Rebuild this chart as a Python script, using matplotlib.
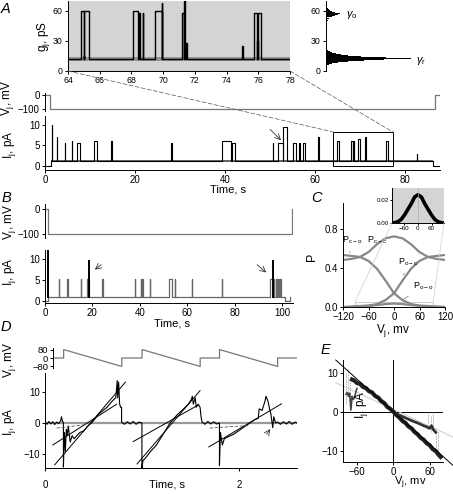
import matplotlib
matplotlib.use('Agg')
import matplotlib.pyplot as plt
from matplotlib.patches import Rectangle, ConnectionPatch

plt.rcParams['font.family'] = ['Liberation Sans', 'DejaVu Sans']
plt.rcParams['mathtext.fontset'] = 'custom'
plt.rcParams['mathtext.rm'] = 'Liberation Sans'
plt.rcParams['mathtext.it'] = 'Liberation Sans:italic'
plt.rcParams['axes.linewidth'] = 0.7

W, H = 453, 494

# ---------------- data ----------------
# A, zoomed conductance trace 64-78 s (start, end, level pS), baseline ~12 pS
g_base = 12
g_events = [(64.8, 64.98, 60), (64.98, 65.02, 15), (65.02, 65.35, 60), (68.1, 68.4, 60),
            (68.5, 68.55, 58), (68.7, 68.75, 58), (69.5, 69.9, 60), (69.9, 69.95, 68),
            (71.2, 71.3, 58), (71.3, 71.36, 70), (71.45, 71.5, 28), (75.0, 75.05, 25),
            (75.75, 75.95, 58), (75.95, 76.0, 30), (76.0, 76.15, 58)]
# all-points histogram of g_j
hist_g = [5, 6, 7, 8, 9, 10, 11, 12, 13, 14, 15, 16, 17, 18, 19, 20, 22, 25, 30, 35, 40, 45,
          50, 52, 54, 55, 56, 57, 58, 59, 60, 61, 62, 64, 66, 68, 70]
hist_n = [1, 3, 6, 12, 22, 38, 58, 85, 60, 35, 22, 15, 10, 6, 4, 2, 1, 1, 1, 1, 1, 1,
          2, 3, 6, 9, 12, 14, 9, 6, 4, 3, 2, 1, 1, 1, 1]

# A, voltage protocol and junctional current
a_vj_t = [0, 1.1, 1.1, 86.6, 86.6, 87.8]
a_vj_v = [0, 0, -100, -100, 0, 0]
a_ij_base = 1.2
a_ij_events = [(1.5, 1.6, 10), (2.6, 2.7, 7), (4.4, 4.5, 5.5), (5.9, 6.0, 6), (7.2, 7.8, 5.5),
               (10.9, 11.5, 6), (14.7, 14.8, 6), (28.1, 28.2, 5.5), (39.3, 41.3, 6),
               (41.6, 42.3, 5.5), (50.6, 50.7, 5.5), (51.7, 52.9, 5.5), (53.0, 53.7, 9.5),
               (55.1, 55.8, 5.5), (56.5, 56.6, 5.5), (57.3, 57.8, 5.5), (60.7, 60.8, 7),
               (64.8, 65.35, 6), (68.1, 68.4, 6), (68.5, 68.55, 6), (68.7, 68.75, 6),
               (69.5, 69.95, 6.5), (71.2, 71.35, 7), (75.75, 76.15, 6), (82.6, 82.7, 3)]

# B, idealised record
b_vj_t = [0, 1.2, 1.2, 104.2, 104.2, 105]
b_vj_v = [0, 0, -100, -100, 0, 0]
b_ij_base = 1.0
b_ij_events = [(6.0, 6.1, 5.2), (9.2, 9.8, 5.2), (15.0, 15.1, 5.2), (17.6, 18.6, 5.2),
               (24.2, 24.4, 5.2), (38.0, 38.1, 5.2), (40.4, 40.6, 5.2), (40.9, 41.2, 5.2),
               (44.3, 44.4, 5.2), (52.5, 53.4, 5.2), (54.8, 55.0, 5.2), (61.9, 62.0, 5.2),
               (74.6, 74.7, 5.2), (94.7, 96.2, 5.2), (96.4, 96.6, 5.2), (97.6, 97.8, 5.2),
               (98.2, 98.9, 5.2), (99.2, 99.5, 5.2)]
b_spikes = [(1.4, 12), (18.65, 9.5), (96.3, 9.5)]

# C, transition probabilities vs Vj
c_v = [-120, -100, -80, -60, -40, -20, 0, 20, 40, 60, 80, 100, 120]
p_cc = [0.48, 0.49, 0.51, 0.56, 0.64, 0.70, 0.72, 0.70, 0.64, 0.56, 0.51, 0.49, 0.48]
p_co = [0.53, 0.52, 0.51, 0.47, 0.39, 0.27, 0.14, 0.07, 0.03, 0.015, 0.01, 0.005, 0.0]
p_oc = [0.0, 0.005, 0.01, 0.015, 0.03, 0.07, 0.14, 0.27, 0.39, 0.47, 0.51, 0.52, 0.53]
p_oo = [0.0, 0.0, 0.005, 0.01, 0.02, 0.03, 0.035, 0.03, 0.02, 0.01, 0.005, 0.0, 0.0]
inset_v = [-110, -90, -75, -60, -45, -30, -15, 0, 15, 30, 45, 60, 75, 90, 110]
inset_p = [0.0, 0.001, 0.003, 0.007, 0.012, 0.017, 0.023, 0.025, 0.023, 0.017, 0.012,
           0.007, 0.003, 0.001, 0.0]

# D, ramp protocol and current
d_vj_t = [0, 0.19, 0.19, 0.79, 0.79, 1.0, 1.0, 1.6, 1.6, 1.8, 1.8, 2.4, 2.4, 2.6]
d_vj_v = [0, 0, 80, -80, 0, 0, 80, -80, 0, 0, 80, -80, 0, 0]
d_t = [0.0, 0.02, 0.04, 0.06, 0.08, 0.10, 0.12, 0.14, 0.16, 0.17, 0.18, 0.19,
       0.19, 0.20, 0.21, 0.22, 0.23, 0.24, 0.26, 0.28, 0.30, 0.33, 0.36, 0.40, 0.44, 0.48,
       0.52, 0.56, 0.60, 0.64, 0.68, 0.71, 0.73, 0.745, 0.75, 0.76, 0.77, 0.78, 0.79,
       0.79, 0.82, 0.85, 0.88, 0.91, 0.94, 0.97, 1.0,
       1.0, 1.01, 1.04, 1.09, 1.15, 1.22, 1.29, 1.36, 1.43, 1.48, 1.51, 1.52, 1.53, 1.55,
       1.56, 1.58, 1.60, 1.61, 1.62, 1.65, 1.68, 1.71, 1.74, 1.77, 1.80,
       1.80, 1.81, 1.83, 1.85, 1.88, 1.95, 2.02, 2.09, 2.16, 2.20, 2.21, 2.24, 2.27, 2.28,
       2.30, 2.32, 2.33, 2.35, 2.36, 2.38, 2.40, 2.43, 2.46, 2.49, 2.52, 2.55, 2.58, 2.6]
d_i = [0.3, -0.4, 0.5, -0.3, 0.4, -0.5, 0.3, -0.2, 0.6, 2.0, 0.5, 0.2,
       -14, -3, -9, -2, -4, -1, -6, -4, -5, -4, -3, -2.5, -1, 0,
       1.5, 3, 4, 5, 6.5, 7.5, 8, 13.5, 8, 13, 6, 5, 5,
       0.3, -0.4, 0.4, -0.3, 0.5, -0.4, 0.3, 0,
       -14.5, -12, -11, -9, -7, -3.5, 0, 2.5, 4.5, 6, 7.5, 8.5, 6, 8,
       5, 6, 5, 2, 0.3, -0.4, 0.5, -0.3, 0.4, -0.3, 0,
       -13.5, -3, -7, -5, -4.5, -3.5, -2, -0.5, 1, 1.5, 4.5, 4, 7, 8.5,
       7, 4, 3, -1.5, 2, 0, 0.3, -0.4, 0.4, -0.3, 0.5, -0.4, 0.3, 0]
# fitted lines in D: (t0, i0, t1, i1)
d_fits = [(0.10, -13.3, 0.83, 13.0), (0.08, -7.0, 0.74, 6.0),
          (0.95, -13.0, 1.60, 10.3), (0.91, -5.9, 1.58, 5.7),
          (1.69, -7.6, 2.44, 6.1)]

# E, I-V relation
e_v_steep = [-68, -64, -60, -55, -50, -45, -40, -35, -30, -25, -20, -15, -10, -5, 0,
             5, 10, 15, 20, 25, 30, 35, 40, 45, 50, 55, 60, 65, 70, 75, 78]
e_i_steep = [8.3, 8.0, 7.4, 7.2, 6.4, 6.1, 5.3, 5.0, 4.1, 3.7, 2.8, 2.3, 1.3, 0.8, 0.1,
             -0.8, -1.4, -2.3, -2.8, -3.7, -4.2, -5.1, -5.7, -6.6, -7.1, -8.0, -8.5, -9.5,
             -10.0, -11.0, -11.5]
e_v_sh = [0, 10, 20, 30, 40, 50, 55, 60, 63, 66, 70]
e_i_sh = [0, -0.8, -1.5, -2.2, -2.8, -3.5, -3.8, -4.2, -3.5, -4.5, -5.2]
e_v_left = [-78, -76, -74, -72, -70, -68, -66, -64, -62, -60]
e_i_left = [4.5, 5.0, 4.0, 4.8, 0.5, 4.0, 3.2, 3.8, 5.0, 6.0]
e_jumps = [(-78, 10, 2), (-75, 11, 4), (-71, 9, 0.5), (58, 0, -3.5), (62, -1, -5),
           (66, 0, -4), (70, -4, -10), (74, -5, -11)]


def steps(t0, t1, base, events):
    xs, ys = [t0], [base]
    for s, e, lvl in sorted(events):
        xs += [s, s, e, e]
        ys += [base, lvl, lvl, base]
    xs.append(t1)
    ys.append(base)
    return xs, ys


fig = plt.figure(figsize=(W / 100, H / 100), dpi=100)


def add_ax(x0, y0, x1, y1):
    return fig.add_axes([x0 / W, 1 - y1 / H, (x1 - x0) / W, (y1 - y0) / H])


def style(ax, bottom=True, size=7):
    ax.spines['top'].set_visible(False)
    ax.spines['right'].set_visible(False)
    if not bottom:
        ax.spines['bottom'].set_visible(False)
        ax.set_xticks([])
    ax.tick_params(direction='out', length=2.5, width=0.7, labelsize=size, pad=1.2)


def ftext(x, y, s, **kw):
    kw.setdefault('ha', 'center')
    kw.setdefault('va', 'center')
    fig.text(x / W, 1 - y / H, s, **kw)


def letter(x, y, s):
    ftext(x, y, s, fontsize=10.5, style='italic')


# ---------------- A ----------------
ax_g = add_ax(68, 1, 290, 71)
ax_g.set_facecolor('#d4d4d4')
xs, ys = steps(64, 78, g_base, g_events)
ax_g.plot(xs, ys, color='black', lw=1.0)
ax_g.fill_between([64, 78], g_base - 2, g_base + 2, color='#555555', lw=0, alpha=0.5)
ax_g.set_xlim(64, 78)
ax_g.set_ylim(0, 70)
ax_g.set_xticks(range(64, 79, 2))
ax_g.set_yticks([0, 30, 60])
style(ax_g, size=6.3)

ax_h = add_ax(326, 1, 416, 71)
ax_h.barh(hist_g, hist_n, height=1.0, color='black', lw=0)
ax_h.set_ylim(0, 70)
ax_h.set_xlim(0, 90)
ax_h.set_yticks([0, 30, 60])
style(ax_h, bottom=False, size=6.3)
ax_h.text(20, 56, r'$\gamma_\mathregular{o}$', fontsize=8, va='center')
ax_h.text(90, 10, r'$\gamma_\mathregular{r}$', fontsize=8, va='center', clip_on=False)

ax_av = add_ax(45, 93, 440, 111)
ax_av.plot(a_vj_t, a_vj_v, color='#777777', lw=0.9)
ax_av.set_xlim(0, 87.8)
ax_av.set_ylim(-115, 15)
ax_av.set_yticks([0, -100])
style(ax_av, bottom=False)

ax_ai = add_ax(45, 116, 440, 170)
xs, ys = steps(1.4, 86.3, a_ij_base, a_ij_events)
xs = [0, 1.4] + xs + [86.3, 87.8]
ys = [0, 0] + ys + [0, 0]
ax_ai.plot(xs, ys, color='black', lw=0.8)
ax_ai.fill_between([1.4, 86.3], a_ij_base - 0.35, a_ij_base + 0.35, color='black', lw=0, alpha=0.6)
ax_ai.set_xlim(0, 87.8)
ax_ai.set_ylim(-1, 12.2)
ax_ai.set_xticks([0, 20, 40, 60, 80])
ax_ai.set_yticks([0, 5, 10])
style(ax_ai)
ax_ai.tick_params(axis='x', pad=0.8)
ax_ai.add_patch(Rectangle((64.07, 0), 13.23, 8.3, fill=False, ec='black', lw=0.7))
ax_ai.annotate('', xy=(52.9, 5.8), xytext=(49.6, 9.4),
               arrowprops=dict(arrowstyle='->', lw=0.6, color='#333333'))
for xa, xb in [((64, 0), (64.07, 8.3)), ((78, 0), (77.3, 8.3))]:
    con = ConnectionPatch(xyA=xa, xyB=xb, coordsA=ax_g.transData, coordsB=ax_ai.transData,
                          linestyle=(0, (6, 3)), lw=0.5, color='#555555')
    fig.add_artist(con)

letter(6, 9, 'A')
ftext(43, 36, r'g$_\mathregular{j}$, pS', rotation=90, fontsize=8.5)
ftext(8, 98, r'V$_\mathregular{j}$, mV', rotation=90, fontsize=8.5)
ftext(9, 145, r'I$_\mathregular{j}$, pA', rotation=90, fontsize=8.5)
ftext(228, 190, 'Time, s', fontsize=8)

# ---------------- B ----------------
ax_bv = add_ax(45, 204, 293, 238)
ax_bv.plot(b_vj_t, b_vj_v, color='#777777', lw=0.9)
ax_bv.set_xlim(0, 104.6)
ax_bv.set_ylim(-115, 20)
ax_bv.set_yticks([0, -100])
style(ax_bv, bottom=False)

ax_bi = add_ax(45, 250, 293, 303)
xs, ys = steps(1.4, 101.3, b_ij_base, b_ij_events)
xs = [0, 1.4] + xs + [101.3, 103.4, 103.4]
ys = [0, 0] + ys + [0, 0, b_ij_base]
ax_bi.plot(xs, ys, color='#666666', lw=0.9)
for ts, lv in b_spikes:
    ax_bi.plot([ts, ts], [b_ij_base, lv], color='black', lw=1.4)
ax_bi.set_xlim(0, 104.6)
ax_bi.set_ylim(-0.55, 12.1)
ax_bi.set_xticks([0, 20, 40, 60, 80, 100])
ax_bi.set_yticks([0, 5, 10])
style(ax_bi)
ax_bi.tick_params(axis='x', pad=0.8)
ax_bi.annotate('', xy=(20.1, 7.0), xytext=(24.6, 9.0),
               arrowprops=dict(arrowstyle='->', lw=0.6, color='#333333'))
ax_bi.annotate('', xy=(94.2, 6.3), xytext=(88.6, 9.0),
               arrowprops=dict(arrowstyle='->', lw=0.6, color='#333333'))

letter(6, 198, 'B')
ftext(9, 222, r'V$_\mathregular{j}$, mV', rotation=90, fontsize=8.5)
ftext(10, 272, r'I$_\mathregular{j}$, pA', rotation=90, fontsize=8.5)
ftext(172, 324, 'Time, s', fontsize=8)

# ---------------- C ----------------
ax_c = add_ax(343, 203, 445, 307)
for p in (p_cc, p_co, p_oc, p_oo):
    ax_c.plot(c_v, p, color='#888888', lw=1.6)
ax_c.set_xlim(-120, 120)
ax_c.set_ylim(0, 1.06)
ax_c.set_xticks([-120, -60, 0, 60, 120])
ax_c.set_yticks([0, 0.4, 0.8])
ax_c.set_yticklabels(['0.0', '0.4', '0.8'])
style(ax_c)
ax_c.add_patch(Rectangle((-92, -0.005), 184, 0.055, fill=False, ec='#cccccc', lw=0.7,
                         clip_on=False))
lead = dict(arrowstyle='-', lw=0.6, color='#888888')
ax_c.annotate(r'P$_\mathregular{c-o}$', xy=(-104, 0.55), xytext=(-98, 0.68), fontsize=6.5,
              ha='center', va='center', arrowprops=lead)
ax_c.annotate(r'P$_\mathregular{c-c}$', xy=(-54, 0.58), xytext=(-40, 0.68), fontsize=6.5,
              ha='center', va='center', arrowprops=lead)
ax_c.annotate(r'P$_\mathregular{o-c}$', xy=(20, 0.30), xytext=(34, 0.46), fontsize=6.5,
              ha='center', va='center', arrowprops=lead)
ax_c.annotate(r'P$_\mathregular{o-o}$', xy=(12, 0.05), xytext=(70, 0.21), fontsize=6.5,
              ha='center', va='center', arrowprops=lead)

ax_in = add_ax(392, 188, 444, 223)
ax_in.set_facecolor('#d4d4d4')
ax_in.plot(inset_v, inset_p, color='black', lw=2.6)
ax_in.axvline(0, color='#aaaaaa', lw=0.5)
ax_in.set_xlim(-115, 115)
ax_in.set_ylim(0, 0.031)
ax_in.set_xticks([-60, 0, 60])
ax_in.set_yticks([0, 0.02])
ax_in.set_yticklabels(['0.00', '0.02'])
style(ax_in, size=4.5)
ax_in.tick_params(length=1.5, pad=1)
for xa, xb in [((-92, 0.05), (-115, 0)), ((92, 0.05), (115, 0))]:
    con = ConnectionPatch(xyA=xa, xyB=xb, coordsA=ax_c.transData, coordsB=ax_in.transData,
                          lw=0.5, color='#cccccc')
    fig.add_artist(con)

letter(316, 198, 'C')
ftext(312, 257, 'P', rotation=90, fontsize=9)
ftext(393, 330, r'V$_\mathregular{j}$, mv', fontsize=8.5)

# ---------------- D ----------------
ax_dv = add_ax(53, 348, 297, 368)
ax_dv.plot(d_vj_t, d_vj_v, color='#777777', lw=0.9)
ax_dv.set_xlim(0.08, 2.6)
ax_dv.set_ylim(-95, 95)
ax_dv.set_yticks([80, 0, -80])
style(ax_dv, bottom=False, size=6.8)
ax_dv.tick_params(pad=1)

ax_di = add_ax(45, 373, 297, 468)
ax_di.axhline(0, color='#999999', lw=1.6)
ax_di.plot(d_t, d_i, color='black', lw=0.8)
for t0, i0, t1, i1 in d_fits:
    ax_di.plot([t0, t1], [i0, i1], color='black', lw=0.7)
ax_di.plot([0.12, 0.40], [-1.6, -0.6], color='#555555', lw=0.6, ls=(0, (4, 2)))
ax_di.plot([1.70, 2.10], [-1.6, -0.8], color='#555555', lw=0.6, ls=(0, (4, 2)))
ax_di.set_xlim(0, 2.6)
ax_di.set_ylim(-14.3, 15.9)
ax_di.set_xticks([0, 2])
ax_di.set_yticks([10, 0, -10])
style(ax_di)
ax_di.tick_params(axis='x', pad=6)
ax_di.annotate('', xy=(2.34, -1.2), xytext=(2.27, -4.3),
               arrowprops=dict(arrowstyle='->', lw=0.6, color='#333333'))

letter(6, 327, 'D')
ftext(9, 360, r'V$_\mathregular{j}$, mV', rotation=90, fontsize=8.5)
ftext(10, 422, r'I$_\mathregular{j}$, pA', rotation=90, fontsize=8.5)
ftext(167, 484, 'Time, s', fontsize=8)

# ---------------- E ----------------
ax_e = add_ax(343, 360, 443, 462)
ax_e.axhline(0, color='black', lw=0.7)
ax_e.axvline(0, color='black', lw=0.7)
for v, i0, i1 in e_jumps:
    ax_e.plot([v, v], [i0, i1], color='#aaaaaa', lw=0.6, ls=(0, (2, 1)))
ax_e.plot([-95, 100], [7.5, -6.5], color='#cccccc', lw=0.7, clip_on=False)
ax_e.plot(e_v_steep, e_i_steep, color='#222222', lw=3.0)
ax_e.plot(e_v_sh, e_i_sh, color='#333333', lw=2.0)
ax_e.plot(e_v_left, e_i_left, color='#444444', lw=1.2)
ax_e.plot([-95, 98], [13.3, -13.6], color='black', lw=0.7, clip_on=False)
ax_e.set_xlim(-83, 82)
ax_e.set_ylim(-12.8, 13.3)
ax_e.set_xticks([-60, 0, 60])
ax_e.set_yticks([10, 0, -10])
style(ax_e)

letter(325, 350, 'E')
ftext(362, 405, r'I$_\mathregular{j}$, pA', rotation=90, fontsize=8.5)
ftext(410, 483, r'V$_\mathregular{j}$, mv', fontsize=8)

plt.savefig('out.png', dpi=100)
